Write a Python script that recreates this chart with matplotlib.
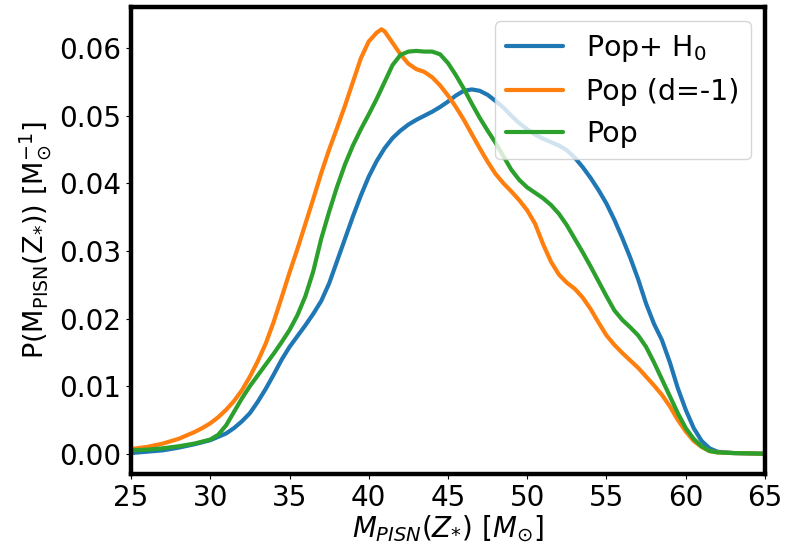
import matplotlib
matplotlib.use("Agg")
import matplotlib.pyplot as plt

# Posterior densities of the pair-instability mass scale M_PISN(Z*)
mass_h0 = [25, 26, 27, 28, 29, 30, 31, 31.5, 32, 32.5, 33, 33.5, 34, 34.5, 35, 35.5,
           36, 36.5, 37, 37.5, 38, 38.5, 39, 39.5, 40, 40.5, 41, 41.5, 42, 42.5, 43,
           43.5, 44, 44.5, 45, 45.5, 46, 46.5, 47, 47.5, 48, 48.5, 49, 49.5, 50, 50.5,
           51, 51.5, 52, 52.5, 53, 53.5, 54, 54.5, 55, 55.5, 56, 56.5, 57, 57.5, 58,
           58.5, 59, 59.5, 60, 60.5, 61, 61.5, 62, 63, 65]
dens_h0 = [0.0001, 0.0003, 0.0005, 0.0009, 0.0014, 0.0020, 0.0030, 0.0038, 0.0048,
           0.0060, 0.0077, 0.0096, 0.0117, 0.0139, 0.0158, 0.0174, 0.0190, 0.0207,
           0.0226, 0.0252, 0.0285, 0.0318, 0.0351, 0.0382, 0.0410, 0.0433, 0.0452,
           0.0467, 0.0478, 0.0487, 0.0494, 0.0500, 0.0506, 0.0513, 0.0521, 0.0530,
           0.0537, 0.0539, 0.0537, 0.0531, 0.0522, 0.0512, 0.0500, 0.0489, 0.0480,
           0.0472, 0.0466, 0.0461, 0.0456, 0.0449, 0.0438, 0.0424, 0.0408, 0.0390,
           0.0370, 0.0346, 0.0319, 0.0290, 0.0258, 0.0222, 0.0192, 0.0168, 0.0135,
           0.0097, 0.0065, 0.0038, 0.0019, 0.0008, 0.0003, 0.0001, 0.0]

mass_d = [25, 26, 27, 28, 28.5, 29, 29.5, 30, 30.5, 31, 31.5, 32, 32.5, 33, 33.5, 34,
          34.5, 35, 35.5, 36, 36.5, 37, 37.5, 38, 38.5, 39, 39.5, 40, 40.5, 40.8, 41,
          41.5, 42, 42.5, 43, 43.5, 44, 44.5, 45, 45.5, 46, 46.5, 47, 47.5, 48, 48.5,
          49, 49.5, 50, 50.5, 51, 51.5, 52, 52.5, 53, 53.5, 54, 54.5, 55, 55.5, 56,
          56.5, 57, 57.5, 58, 58.5, 59, 59.5, 60, 60.5, 61, 61.5, 62, 63, 65]
dens_d = [0.0007, 0.0010, 0.0015, 0.0022, 0.0027, 0.0032, 0.0038, 0.0045, 0.0054,
          0.0065, 0.0078, 0.0094, 0.0114, 0.0137, 0.0163, 0.0195, 0.0231, 0.0268,
          0.0303, 0.0340, 0.0377, 0.0415, 0.0450, 0.0482, 0.0515, 0.0550, 0.0585,
          0.0610, 0.0623, 0.0628, 0.0625, 0.0608, 0.0591, 0.0577, 0.0569, 0.0565,
          0.0557, 0.0545, 0.0530, 0.0513, 0.0494, 0.0473, 0.0452, 0.0432, 0.0414,
          0.0400, 0.0388, 0.0375, 0.0360, 0.0340, 0.0310, 0.0284, 0.0265, 0.0253,
          0.0244, 0.0231, 0.0214, 0.0194, 0.0175, 0.0161, 0.0149, 0.0138, 0.0127,
          0.0114, 0.0101, 0.0087, 0.0070, 0.0050, 0.0033, 0.0019, 0.0010, 0.0004,
          0.0002, 0.0001, 0.0]

mass_pop = [25, 26, 27, 28, 29, 30, 30.5, 31, 31.5, 32, 32.5, 33, 33.5, 34, 34.5, 35,
            35.5, 36, 36.5, 37, 37.5, 38, 38.5, 39, 39.5, 40, 40.5, 41, 41.5, 42, 42.5,
            43, 43.5, 44, 44.5, 45, 45.5, 46, 46.5, 47, 47.5, 48, 48.5, 49, 49.5, 50,
            50.5, 51, 51.5, 52, 52.5, 53, 53.5, 54, 54.5, 55, 55.5, 56, 56.5, 57, 57.5,
            58, 58.5, 59, 59.5, 60, 60.5, 61, 61.5, 62, 63, 65]
dens_pop = [0.0005, 0.0006, 0.0008, 0.0011, 0.0015, 0.0021, 0.0028, 0.0042, 0.0062,
            0.0082, 0.0100, 0.0116, 0.0132, 0.0148, 0.0165, 0.0183, 0.0205, 0.0233,
            0.0270, 0.0318, 0.0358, 0.0395, 0.0428, 0.0456, 0.0480, 0.0502, 0.0525,
            0.0550, 0.0575, 0.0590, 0.0595, 0.0596, 0.0595, 0.0595, 0.0591, 0.0578,
            0.0560, 0.0540, 0.0518, 0.0497, 0.0478, 0.0460, 0.0440, 0.0420, 0.0405,
            0.0394, 0.0386, 0.0378, 0.0368, 0.0355, 0.0338, 0.0318, 0.0298, 0.0277,
            0.0255, 0.0233, 0.0212, 0.0198, 0.0187, 0.0175, 0.0158, 0.0135, 0.0110,
            0.0085, 0.0060, 0.0038, 0.0022, 0.0011, 0.0004, 0.0002, 0.0001, 0.0]

labels = ["Pop+ H$_0$", "Pop (d=-1)", "Pop"]
colors = ["#1f77b4", "#ff7f0e", "#2ca02c"]
xticks = [25, 30, 35, 40, 45, 50, 55, 60, 65]
yticks = [0.00, 0.01, 0.02, 0.03, 0.04, 0.05, 0.06]

fig = plt.figure(figsize=(7.85, 5.54), dpi=100)
ax = fig.add_axes([0.1669, 0.1444, 0.8076, 0.843])

for xs, ys, lab, col in zip([mass_h0, mass_d, mass_pop],
                            [dens_h0, dens_d, dens_pop], labels, colors):
    ax.plot(xs, ys, color=col, lw=3, label=lab,
            solid_joinstyle="round", solid_capstyle="round")

ax.set_xlim(25, 65)
ax.set_ylim(-0.003, 0.0661)
ax.set_xticks(xticks)
ax.set_xticklabels([str(t) for t in xticks])
ax.set_yticks(yticks)
ax.set_yticklabels([f"{t:.2f}" for t in yticks])
ax.tick_params(labelsize=20)

for s in ax.spines.values():
    s.set_linewidth(3.2)

ax.set_xlabel(r"$M_{PISN}(Z_{*})\ [M_{\odot}]$", fontsize=20, labelpad=1)
ax.set_ylabel(r"P(M$_{\rm PISN}$(Z$_{*}$)) [M$_{\odot}^{-1}$]", fontsize=19.5)

ax.legend(loc="upper right", fontsize=20.5)

fig.savefig("out.png", dpi=100)
